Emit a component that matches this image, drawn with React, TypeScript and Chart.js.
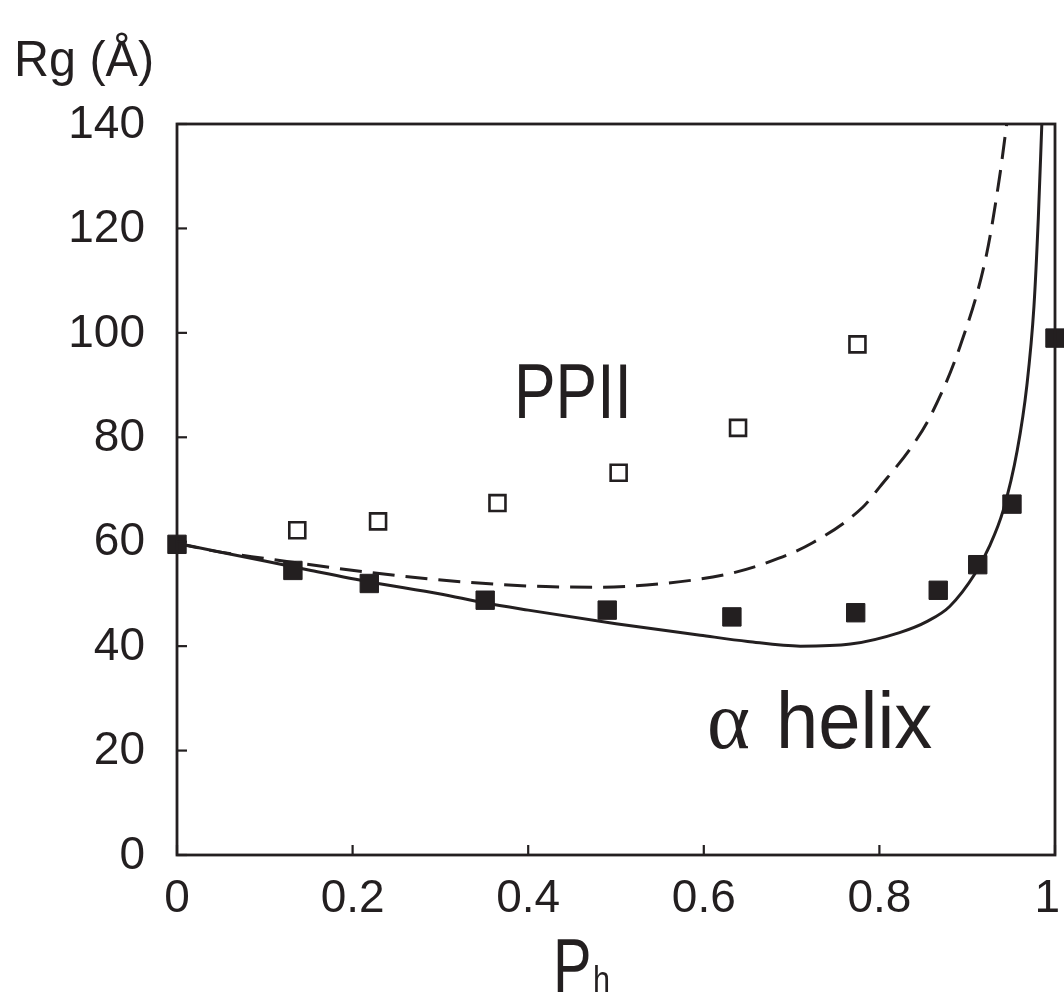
import React, { useEffect, useRef } from "react";
import { Chart, registerables } from "chart.js";

Chart.register(...registerables);

// Experimental points
const helixPointsX = [0, 0.132, 0.219, 0.351, 0.49, 0.632, 0.773, 0.867, 0.912, 0.951, 1.0];
const helixPointsY = [59.5, 54.5, 52.0, 48.8, 46.9, 45.6, 46.4, 50.7, 55.6, 67.2, 99.0];
const ppiiPointsX = [0.137, 0.229, 0.365, 0.503, 0.639, 0.775];
const ppiiPointsY = [62.2, 63.9, 67.4, 73.2, 81.8, 97.8];

// Model curves
const helixCurveX = [0, 0.05, 0.1, 0.15, 0.22, 0.3, 0.35, 0.4, 0.5, 0.596, 0.65, 0.71, 0.767, 0.823, 0.855, 0.88, 0.909, 0.925, 0.941, 0.957, 0.968, 0.976, 0.981, 0.985];
const helixCurveY = [59.7, 58.0, 56.3, 54.6, 52.3, 50.0, 48.3, 46.9, 44.3, 42.1, 40.9, 40.0, 40.4, 42.6, 44.8, 47.6, 53.9, 59.0, 66.0, 77.5, 90, 105, 122, 140];
const ppiiCurveX = [0, 0.046, 0.1, 0.22, 0.334, 0.42, 0.482, 0.56, 0.63, 0.672, 0.724, 0.781, 0.8, 0.838, 0.858, 0.892, 0.922, 0.937, 0.945];
const ppiiCurveY = [59.7, 58.1, 56.8, 54.1, 52.2, 51.4, 51.3, 52.1, 53.9, 56.0, 59.8, 66.6, 70.4, 78.5, 84.0, 97.5, 115, 130, 140];

// Axes
const xTicks = [0, 0.2, 0.4, 0.6, 0.8, 1];
const xTickLabels = ["0", "0.2", "0.4", "0.6", "0.8", "1"];
const yTicks = [0, 20, 40, 60, 80, 100, 120, 140];
const yTickLabels = ["0", "20", "40", "60", "80", "100", "120", "140"];

const INK = "#231f20";
const SANS = '"Liberation Sans", Arial, sans-serif';

const zip = (xs: number[], ys: number[]) => xs.map((x, i) => ({ x, y: ys[i] }));

function squeezedText(ctx: CanvasRenderingContext2D, text: string, x: number, y: number, sx: number) {
  ctx.save();
  ctx.translate(x, y);
  ctx.scale(sx, 1);
  ctx.fillText(text, 0, 0);
  ctx.restore();
}

const decorPlugin = {
  id: "decor",
  afterDraw(chart: any) {
    const { ctx, chartArea: a, scales, width } = chart;
    const xs = scales.x;
    const ys = scales.y;
    ctx.save();
    ctx.strokeStyle = INK;
    ctx.fillStyle = INK;
    ctx.lineWidth = 2.8;
    ctx.strokeRect(a.left, a.top, a.right - a.left, a.bottom - a.top);
    // inward ticks
    ctx.lineWidth = 2.2;
    yTicks.forEach((v) => {
      const py = ys.getPixelForValue(v);
      ctx.beginPath();
      ctx.moveTo(a.left, py);
      ctx.lineTo(a.left + 10, py);
      ctx.stroke();
    });
    xTicks.forEach((v) => {
      const px = xs.getPixelForValue(v);
      ctx.beginPath();
      ctx.moveTo(px, a.bottom);
      ctx.lineTo(px, a.bottom - 10);
      ctx.stroke();
    });
    // tick labels
    ctx.font = "46px " + SANS;
    ctx.textAlign = "right";
    ctx.textBaseline = "middle";
    yTicks.forEach((v, i) => {
      ctx.fillText(yTickLabels[i], a.left - 32, ys.getPixelForValue(v) + 1);
    });
    ctx.textAlign = "center";
    ctx.textBaseline = "alphabetic";
    xTicks.forEach((v, i) => {
      const w = ctx.measureText(xTickLabels[i]).width;
      const px = Math.min(xs.getPixelForValue(v), width - w / 2 - 4);
      ctx.fillText(xTickLabels[i], px, a.bottom + 57);
    });
    // axis titles
    ctx.textAlign = "left";
    ctx.font = "50px " + SANS;
    squeezedText(ctx, "Rg (Å)", 14, 76, 0.97);
    ctx.font = "76px " + SANS;
    squeezedText(ctx, "P", 553, 992, 0.76);
    ctx.font = "36px " + SANS;
    squeezedText(ctx, "h", 593, 992, 0.85);
    // annotations
    ctx.font = "77px " + SANS;
    squeezedText(ctx, "PPII", 514, 418, 0.81);
    ctx.font = '82px "Liberation Serif", serif';
    ctx.fillText("α", 707, 748);
    ctx.font = "80px " + SANS;
    squeezedText(ctx, "helix", 776, 748, 0.95);
    ctx.restore();
  },
};

export default function App() {
  const ref = useRef<HTMLCanvasElement>(null);
  useEffect(() => {
    document.body.style.margin = "0";
    document.body.style.overflow = "hidden";
    const chart = new Chart(ref.current as HTMLCanvasElement, {
      type: "scatter",
      data: {
        datasets: [
          {
            label: "helix data",
            data: zip(helixPointsX, helixPointsY),
            pointStyle: "rect",
            pointRadius: 13,
            backgroundColor: INK,
            borderColor: INK,
            borderWidth: 1,
            showLine: false,
            clip: false,
          } as any,
          {
            label: "PPII data",
            data: zip(ppiiPointsX, ppiiPointsY),
            pointStyle: "rect",
            pointRadius: 11.3,
            backgroundColor: "#ffffff",
            borderColor: INK,
            borderWidth: 2.6,
            showLine: false,
            clip: false,
          } as any,
          {
            label: "helix model",
            data: zip(helixCurveX, helixCurveY),
            showLine: true,
            pointRadius: 0,
            borderColor: INK,
            borderWidth: 3,
            cubicInterpolationMode: "monotone",
            fill: false,
          } as any,
          {
            label: "PPII model",
            data: zip(ppiiCurveX, ppiiCurveY),
            showLine: true,
            pointRadius: 0,
            borderColor: INK,
            borderWidth: 3,
            borderDash: [22, 11],
            cubicInterpolationMode: "monotone",
            fill: false,
          } as any,
        ],
      },
      options: {
        responsive: false,
        animation: false,
        layout: { autoPadding: false, padding: { left: 177, right: 9, top: 124, bottom: 144 } },
        plugins: { legend: { display: false }, tooltip: { enabled: false } },
        scales: {
          x: { type: "linear", min: 0, max: 1, display: false },
          y: { type: "linear", min: 0, max: 140, display: false },
        },
      } as any,
      plugins: [decorPlugin],
    });
    return () => chart.destroy();
  }, []);
  return (
    <div style={{ position: "absolute", left: 0, top: 0, width: 1064, height: 999, overflow: "hidden" }}>
      <canvas ref={ref} width={1064} height={999} style={{ display: "block" }} />
    </div>
  );
}
